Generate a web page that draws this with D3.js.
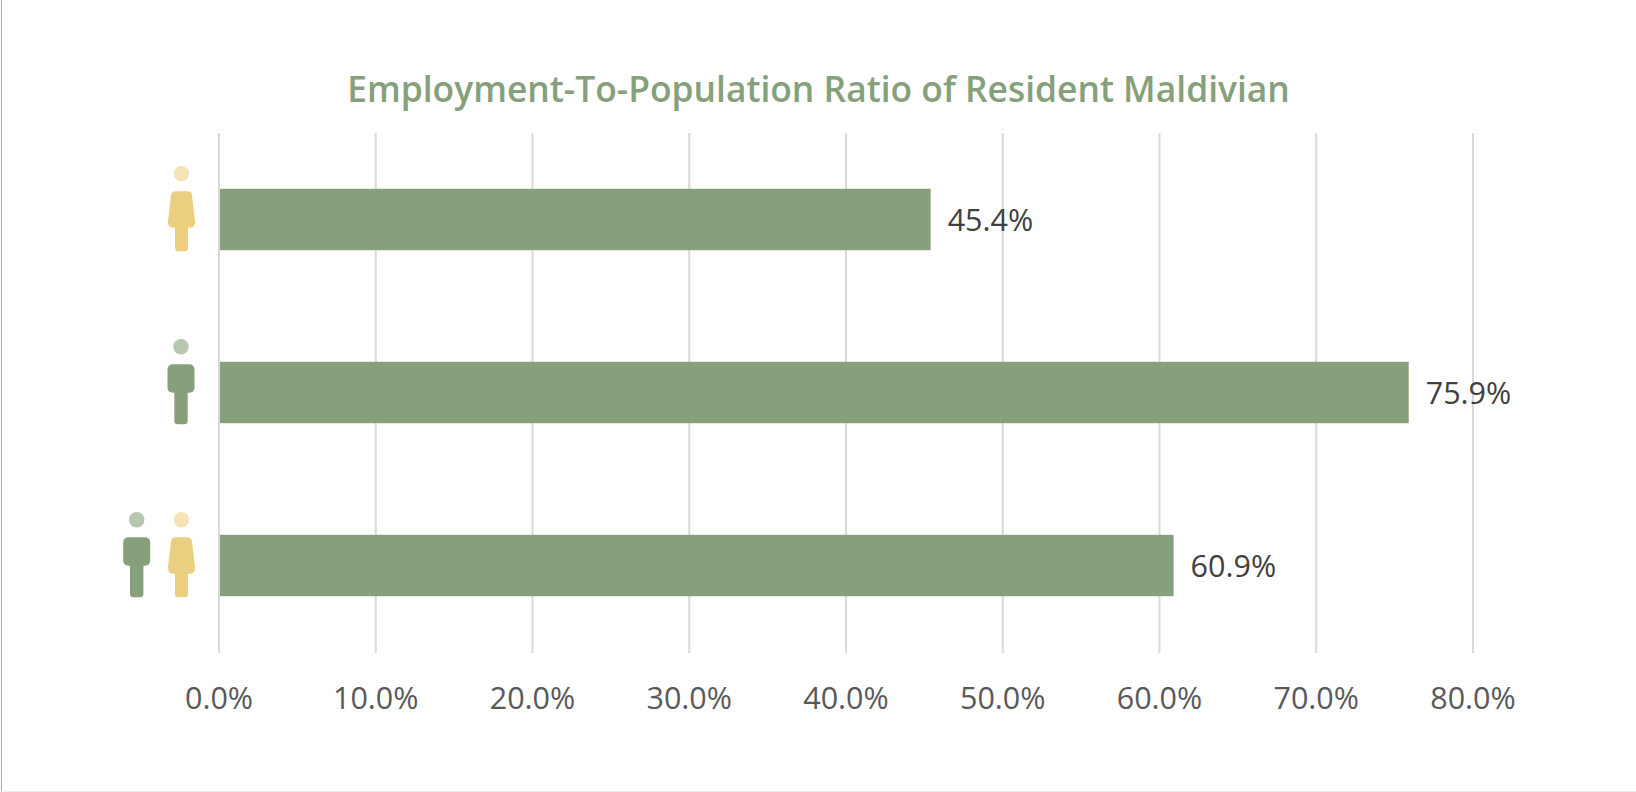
<!DOCTYPE html>
<html><head><meta charset="utf-8">
<script src="https://cdn.jsdelivr.net/npm/d3@7"></script>
<style>html,body{margin:0;padding:0;background:#fff}svg{display:block}</style></head>
<body><svg id="c" width="1636" height="792"></svg>
<script>
const categories=["female","male","both"];
const values=[45.4,75.9,60.9];
const tickValues=[0,10,20,30,40,50,60,70,80];
const titleText="Employment-To-Population Ratio of Resident Maldivian";
const iconSets=[["f"],["m"],["m","f"]];
const svg=d3.select("#c");
const font="'Open Sans','Noto Sans',sans-serif";
const x=d3.scaleLinear().domain([0,80]).range([219,1473]);
const y=d3.scaleBand().domain(categories).range([133,652]).paddingInner(0.645).paddingOuter(0.3225);
svg.append("line").attr("x1",1.5).attr("x2",1.5).attr("y1",0).attr("y2",792).attr("stroke","#a3b09c").attr("stroke-width",1);
svg.append("line").attr("x1",1).attr("x2",1636).attr("y1",791.5).attr("y2",791.5).attr("stroke","#ececec").attr("stroke-width",1);
svg.append("text").attr("x",818.5).attr("y",102).attr("text-anchor","middle").attr("font-family",font).attr("font-size",35.4).attr("font-weight",600).attr("fill","#85a07b").text(titleText);
svg.append("g").selectAll("line").data(tickValues).join("line").attr("x1",d=>x(d)).attr("x2",d=>x(d)).attr("y1",133).attr("y2",653).attr("stroke","#d9d9d9").attr("stroke-width",2);
svg.append("g").selectAll("rect").data(values).join("rect").attr("x",x(0)+1).attr("y",(d,i)=>y(categories[i])).attr("width",d=>x(d)-x(0)-1).attr("height",y.bandwidth()).attr("fill","#85a07b");
svg.append("g").selectAll("text").data(values).join("text").attr("x",d=>x(d)+17).attr("y",(d,i)=>y(categories[i])+y.bandwidth()/2+11).attr("font-family",font).attr("font-size",30.5).attr("fill","#404040").text(d=>d.toFixed(1)+"%");
svg.append("g").selectAll("text").data(tickValues).join("text").attr("x",d=>x(d)).attr("y",709).attr("text-anchor","middle").attr("font-family",font).attr("font-size",30.5).attr("fill","#595959").text(d=>d.toFixed(1)+"%");
function male(g,cx,top){
 g.append("circle").attr("cx",cx).attr("cy",top-15).attr("r",7.7).attr("fill","#b5c7ae");
 g.append("rect").attr("x",cx-13.5).attr("y",top+2.5).attr("width",27).attr("height",28.5).attr("rx",5).attr("fill","#85a07b");
 g.append("rect").attr("x",cx-6.7).attr("y",top+25).attr("width",13.4).attr("height",37.5).attr("rx",3.5).attr("fill","#85a07b");
}
function female(g,cx,top){
 g.append("circle").attr("cx",cx).attr("cy",top-15).attr("r",7.7).attr("fill","#f4e3b5");
 g.append("path").attr("d",`M${cx-6},${top+2.5}h12q4,0 4.5,4l3,26q0.4,6.5 -5,6.5h-17q-5.4,0 -5,-6.5l3,-26q0.5,-4 4.5,-4z`).attr("fill","#ebcf80");
 g.append("rect").attr("x",cx-6.5).attr("y",top+30).attr("width",13).attr("height",32.5).attr("rx",3.5).attr("fill","#ebcf80");
}
const g=svg.append("g");
iconSets.forEach((set,i)=>{
 const top=y(categories[i]);
 set.forEach(k=>{
  if(k==="f") female(g,181.5,top);
  else male(g,set.length>1?136.7:181,top);
 });
});
</script></body></html>
